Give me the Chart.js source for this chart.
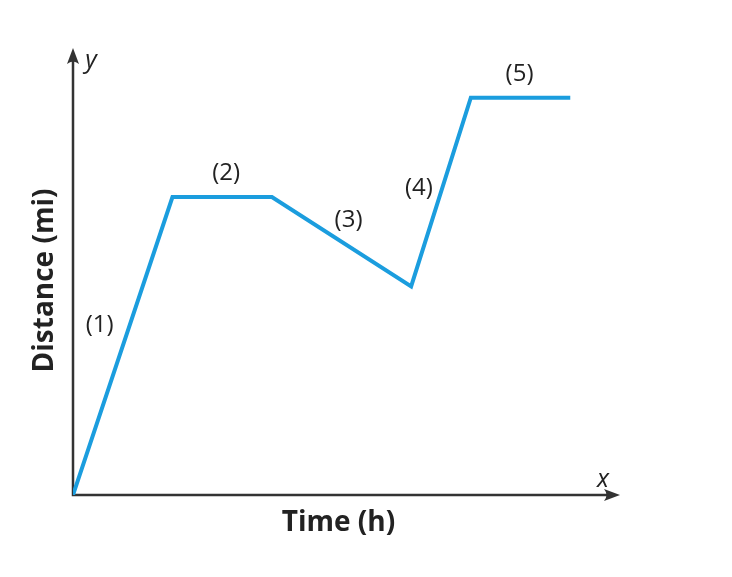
<!DOCTYPE html>
<html>
<head>
<meta charset="utf-8">
<script src="https://cdn.jsdelivr.net/npm/chart.js@4"></script>
<style>
  html, body { margin: 0; padding: 0; background: #fff; }
  #wrap { width: 732px; height: 577px; }
</style>
</head>
<body>
<div id="wrap"><canvas id="chartDistanceTime"></canvas></div>
<script>
// time (h) and distance (mi) (no units on the axes)
const timeValues = [0, 2, 4, 6.8, 8, 10];
const distanceValues = [0, 6, 6, 4.2, 8, 8];
const segmentLabels = ['(1)', '(2)', '(3)', '(4)', '(5)'];
// pixel nudges for each segment label, from the segment midpoint
const labelOffsets = [[-23, -21], [4, -24], [7, -22], [-22, -4], [-1, -24]];

const axisColor = '#333333';
const lineColor = 'rgb(27, 157, 222)';
const textFont = '"Open Sans", "Noto Sans", sans-serif';

function arrowHead(ctx, x, y, angle) {
  ctx.save();
  ctx.translate(x, y);
  ctx.rotate(angle);
  ctx.beginPath();
  ctx.moveTo(0, 0);
  ctx.lineTo(-16, -6);
  ctx.quadraticCurveTo(-11, 0, -16, 6);
  ctx.closePath();
  ctx.fillStyle = axisColor;
  ctx.fill();
  ctx.restore();
}

/** axes with arrows, axis letters, titles and segment labels */
const axesPlugin = {
  id: 'axesPlugin',
  beforeDatasetsDraw(chart) {
    const { ctx, chartArea: a } = chart;
    ctx.save();
    ctx.strokeStyle = axisColor;
    ctx.lineWidth = 2.5;
    ctx.beginPath();
    ctx.moveTo(a.left, a.top + 8);
    ctx.lineTo(a.left, a.bottom);
    ctx.lineTo(a.right - 8, a.bottom);
    ctx.stroke();
    arrowHead(ctx, a.left, a.top, -Math.PI / 2);
    arrowHead(ctx, a.right, a.bottom, 0);

    ctx.fillStyle = '#222';
    ctx.font = 'italic 25px ' + textFont;
    ctx.textAlign = 'center';
    ctx.textBaseline = 'middle';
    ctx.fillText('y', a.left + 18, a.top + 13);
    ctx.fillText('x', a.right - 17, a.bottom - 15);

    ctx.font = 'bold 28px ' + textFont;
    ctx.fillText('Time (h)', (a.left + a.right) / 2 - 8, a.bottom + 28);
    ctx.save();
    ctx.translate(a.left - 28, (a.top + a.bottom) / 2 + 9);
    ctx.rotate(-Math.PI / 2);
    ctx.fillText('Distance (mi)', 0, 0);
    ctx.restore();
    ctx.restore();
  },
  afterDatasetsDraw(chart) {
    const { ctx, scales: { x, y } } = chart;
    ctx.save();
    ctx.fillStyle = '#222';
    ctx.font = '24px ' + textFont;
    ctx.textAlign = 'center';
    ctx.textBaseline = 'middle';
    segmentLabels.forEach((txt, i) => {
      const mx = (x.getPixelForValue(timeValues[i]) + x.getPixelForValue(timeValues[i + 1])) / 2;
      const my = (y.getPixelForValue(distanceValues[i]) + y.getPixelForValue(distanceValues[i + 1])) / 2;
      ctx.fillText(txt, mx + labelOffsets[i][0], my + labelOffsets[i][1]);
    });
    ctx.restore();
  }
};

const _chartDistanceTime = document.getElementById('chartDistanceTime');

new Chart(_chartDistanceTime, {
  type: 'line',
  data: {
    datasets: [{
      label: 'Distance',
      data: timeValues.map((t, i) => ({ x: t, y: distanceValues[i] })),
      borderColor: lineColor,
      borderWidth: 4,
      borderJoinStyle: 'miter',
      borderCapStyle: 'butt',
      pointRadius: 0,
      fill: false,
      tension: 0
    }]
  },
  options: {
    responsive: true,
    maintainAspectRatio: false,
    animation: false,
    layout: { padding: { left: 73, right: 112, top: 48, bottom: 82 } },
    plugins: { legend: { display: false }, tooltip: { enabled: false } },
    scales: {
      x: { type: 'linear', min: 0, max: 11, display: false },
      y: { type: 'linear', min: 0, max: 9, display: false }
    }
  },
  plugins: [axesPlugin]
});
</script>
</body>
</html>
